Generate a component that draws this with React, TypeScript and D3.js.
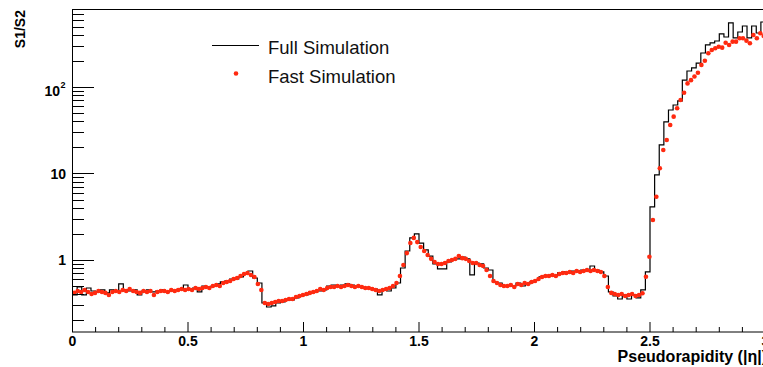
import React from "react";
import * as d3 from "d3";

// Full simulation histogram, 150 bins of 0.02 in |eta|
const fullSim = [
  0.394, 0.487, 0.394, 0.474, 0.438, 0.427, 0.45, 0.416, 0.45, 0.438,
  0.528, 0.45, 0.438, 0.45, 0.394, 0.438, 0.45, 0.427, 0.438, 0.45,
  0.427, 0.438, 0.45, 0.462, 0.514, 0.462, 0.474, 0.427, 0.5, 0.487,
  0.5, 0.528, 0.557, 0.572, 0.603, 0.603, 0.636, 0.689, 0.746, 0.619,
  0.542, 0.318, 0.286, 0.294, 0.318, 0.327, 0.345, 0.345, 0.364, 0.384,
  0.394, 0.416, 0.427, 0.438, 0.45, 0.5, 0.514, 0.5, 0.514, 0.528,
  0.514, 0.5, 0.487, 0.474, 0.474, 0.462, 0.394, 0.45, 0.438, 0.474,
  0.542, 0.808, 1.27, 1.8, 2.0, 1.57, 1.31, 1.11, 0.899, 0.787,
  0.787, 0.948, 1.0, 1.03, 1.08, 1.03, 0.671, 0.923, 0.899, 0.808,
  0.766, 0.557, 0.542, 0.5, 0.5, 0.5, 0.542, 0.5, 0.528, 0.557,
  0.587, 0.636, 0.653, 0.671, 0.653, 0.708, 0.727, 0.708, 0.746, 0.746,
  0.766, 0.746, 0.852, 0.766, 0.727, 0.653, 0.427, 0.384, 0.354, 0.394,
  0.354, 0.394, 0.364, 0.45, 0.727, 4.1, 9.61, 21.4, 39.4, 54.2,
  61.9, 68.9, 120, 153, 166, 189, 247, 306, 323, 340,
  410, 378, 550, 369, 432, 507, 369, 507, 421, 564,
];

// Fast simulation points, 200 points of 0.015 in |eta|
const fastSim = [
  0.416, 0.438, 0.427, 0.45, 0.427, 0.405, 0.416, 0.438, 0.427, 0.416,
  0.394, 0.427, 0.438, 0.427, 0.45, 0.438, 0.462, 0.438, 0.427, 0.416,
  0.438, 0.427, 0.438, 0.394, 0.427, 0.438, 0.438, 0.427, 0.45, 0.438,
  0.45, 0.462, 0.45, 0.462, 0.45, 0.474, 0.462, 0.474, 0.487, 0.474,
  0.5, 0.514, 0.5, 0.542, 0.557, 0.572, 0.603, 0.619, 0.653, 0.689,
  0.708, 0.671, 0.636, 0.528, 0.45, 0.318, 0.31, 0.318, 0.327, 0.336,
  0.336, 0.345, 0.354, 0.354, 0.373, 0.384, 0.394, 0.405, 0.416, 0.427,
  0.438, 0.462, 0.45, 0.474, 0.487, 0.487, 0.5, 0.487, 0.5, 0.514,
  0.5, 0.487, 0.5, 0.487, 0.474, 0.474, 0.462, 0.45, 0.438, 0.45,
  0.462, 0.474, 0.5, 0.542, 0.653, 0.875, 1.2, 1.57, 1.8, 1.61,
  1.41, 1.27, 1.14, 1.03, 0.948, 0.899, 0.899, 0.923, 0.974, 1.0,
  1.03, 1.11, 1.05, 1.03, 0.974, 0.923, 0.923, 0.875, 0.852, 0.766,
  0.653, 0.572, 0.542, 0.514, 0.5, 0.5, 0.514, 0.487, 0.528, 0.514,
  0.542, 0.528, 0.557, 0.572, 0.603, 0.636, 0.653, 0.653, 0.671, 0.653,
  0.689, 0.708, 0.708, 0.727, 0.708, 0.746, 0.727, 0.746, 0.766, 0.746,
  0.766, 0.746, 0.727, 0.653, 0.487, 0.416, 0.405, 0.394, 0.405, 0.384,
  0.394, 0.405, 0.384, 0.394, 0.412, 0.641, 1.09, 2.9, 5.39, 11.5,
  18.7, 24.4, 36.4, 45.4, 56.7, 70.7, 85.9, 110, 120, 132,
  146, 180, 201, 245, 268, 280, 292, 285, 325, 306,
  334, 334, 366, 366, 343, 320, 399, 366, 418, 389,
];

const xMajor = [0, 0.5, 1, 1.5, 2, 2.5, 3];
const xLabels = ["0", "0.5", "1", "1.5", "2", "2.5", "3"];
const yMajor = [1, 10, 100];
const yMinor = [0.2, 0.3, 0.4, 0.5, 0.6, 0.7, 0.8, 0.9, 2, 3, 4, 5, 6, 7, 8, 9,
  20, 30, 40, 50, 60, 70, 80, 90, 200, 300, 400, 500, 600, 700];

const fullW = 0.02;
const fastW = 0.015;
const font = "'Liberation Sans', Arial, Helvetica, sans-serif";

export default function App() {
  const x = d3.scaleLinear().domain([0, 3]).range([72.5, 765.5]);
  const y = d3.scaleLog().domain([0.147, 797]).range([332, 9]);

  // histogram as steps, with one extra point for the last bin edge
  const steps = fullSim.map((v, i) => [i * fullW, v]);
  steps.push([fullSim.length * fullW, fullSim[fullSim.length - 1]]);
  const histLine = d3.line()
    .x(d => x(d[0]))
    .y(d => y(d[1]))
    .curve(d3.curveStepAfter);

  const xMinor = d3.range(0, 31).map(i => i / 10).filter(v => !xMajor.includes(v));

  return (
    <svg width={763} height={367} style={{ position: "absolute", left: 0, top: 0 }}
      fontFamily={font}>
      <rect width={763} height={367} fill="#fff" />

      {/* data */}
      <path d={histLine(steps)} fill="none" stroke="#000" strokeWidth={1.2} />
      {fastSim.map((v, i) => (
        <circle key={i} cx={x(i * fastW + fastW / 2)} cy={y(v)} r={2.3} fill="#ff2a10" />
      ))}

      {/* frame */}
      <rect x={72.5} y={9.5} width={693} height={322.5} fill="none" stroke="#000" strokeWidth={1} />

      {/* x ticks */}
      {xMajor.map(v => (
        <line key={"xM" + v} x1={x(v)} x2={x(v)} y1={332} y2={322} stroke="#000" />
      ))}
      {xMinor.map(v => (
        <line key={"xm" + v} x1={x(v)} x2={x(v)} y1={332} y2={327} stroke="#000" />
      ))}
      {xMajor.map((v, i) => (
        <text key={"xl" + v} x={x(v)} y={346} textAnchor="middle" fontSize={14} fontWeight="bold">
          {xLabels[i]}
        </text>
      ))}

      {/* y ticks */}
      {yMajor.map(v => (
        <line key={"yM" + v} x1={72.5} x2={94} y1={Math.round(y(v)) + 0.5} y2={Math.round(y(v)) + 0.5} stroke="#000" />
      ))}
      {yMinor.map(v => (
        <line key={"ym" + v} x1={72.5} x2={84} y1={Math.round(y(v)) + 0.5} y2={Math.round(y(v)) + 0.5} stroke="#000" />
      ))}
      <text x={66} y={y(1) + 5.5} textAnchor="end" fontSize={14} fontWeight="bold">1</text>
      <text x={66} y={y(10) + 5.5} textAnchor="end" fontSize={14} fontWeight="bold">10</text>
      <text x={60} y={y(100) + 9.5} textAnchor="end" fontSize={14} fontWeight="bold">10</text>
      <text x={60.5} y={y(100) + 1} fontSize={9} fontWeight="bold">2</text>

      {/* axis titles */}
      <text transform="translate(25,10) rotate(-90)" textAnchor="end" fontSize={14} fontWeight="bold">
        S1/S2
      </text>
      <text x={767} y={362} textAnchor="end" fontSize={16} fontWeight="bold">
        Pseudorapidity (|η|)
      </text>

      {/* legend */}
      <line x1={212} x2={259} y1={45.5} y2={45.5} stroke="#000" strokeWidth={1.2} />
      <text x={268} y={54} fontSize={18.5} fill="#111">Full Simulation</text>
      <circle cx={236} cy={73.5} r={2.3} fill="#ff2a10" />
      <text x={268} y={83} fontSize={18.5} fill="#111">Fast Simulation</text>
    </svg>
  );
}
